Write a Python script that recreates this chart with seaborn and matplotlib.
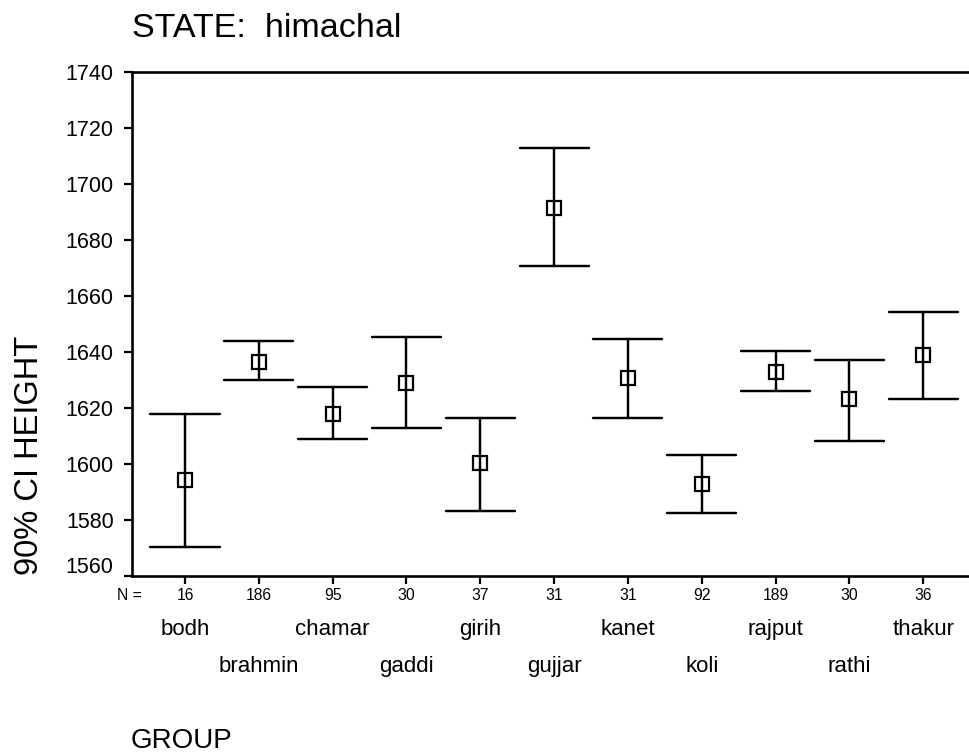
import numpy as np
import pandas as pd
import matplotlib
matplotlib.use("Agg")
import matplotlib.pyplot as plt
import matplotlib.transforms as mtrans
import seaborn as sns

# ---- data ----
groups = ["bodh", "brahmin", "chamar", "gaddi", "girih", "gujjar",
          "kanet", "koli", "rajput", "rathi", "thakur"]
n_counts = [16, 186, 95, 30, 37, 31, 31, 92, 189, 30, 36]
means = [1594.2, 1636.3, 1617.8, 1628.9, 1600.1, 1691.2,
         1630.5, 1592.8, 1632.6, 1623.0, 1638.7]
lower = [1570.4, 1629.8, 1608.9, 1612.6, 1583.0, 1670.5,
         1616.4, 1582.3, 1626.0, 1608.2, 1623.0]
upper = [1617.9, 1643.8, 1627.4, 1645.4, 1616.4, 1712.6,
         1644.4, 1603.1, 1640.1, 1637.0, 1654.1]
y_ticks = [1560, 1580, 1600, 1620, 1640, 1660, 1680, 1700, 1720, 1740]

title_text = "STATE:  himachal"
y_label = "90% CI HEIGHT"
x_label = "GROUP"
n_prefix = "N ="

# long table: lower bound, mean, upper bound per group
rows = []
for g, lo, m, hi in zip(groups, lower, means, upper):
    for v in (lo, m, hi):
        rows.append({"group": g, "height": v})
df = pd.DataFrame(rows)

sns.set_theme(style="ticks")
plt.rcParams["font.family"] = ["Liberation Sans", "DejaVu Sans"]
plt.rcParams["text.color"] = "black"
plt.rcParams["axes.edgecolor"] = "black"
plt.rcParams["xtick.color"] = "black"
plt.rcParams["ytick.color"] = "black"

W, H = 969, 754
fig = plt.figure(figsize=(W / 100, H / 100), dpi=100)
ax_left, ax_top, ax_bottom = 131.7, 71.7, 575.7
ax = fig.add_axes([ax_left / W, 1 - ax_bottom / H, 1 - ax_left / W,
                   (ax_bottom - ax_top) / H])

sns.pointplot(data=df, x="group", y="height", order=groups,
              estimator="median", errorbar=("pi", 100),
              color="black", marker="s", markersize=9.8,
              markeredgewidth=1.6, markerfacecolor="none",
              linestyle="none", capsize=0.935,
              err_kws={"linewidth": 1.75}, ax=ax)

for ln in ax.lines:
    if ln.get_marker() == "s":
        ln.set_markerfacecolor("none")
        ln.set_markeredgecolor("black")
        ln.set_zorder(5)

ax.set_xlim(-0.722, 10.62)
ax.set_ylim(1560, 1740)
ax.set_yticks(y_ticks)
ax.set_yticklabels([str(t) for t in y_ticks])
ax.set_xticks(range(len(groups)))
ax.set_xticklabels([str(n) for n in n_counts])
ax.set_xlabel("")
ax.set_ylabel("")

for side in ["left", "bottom", "top"]:
    ax.spines[side].set_linewidth(1.9)
    ax.spines[side].set_color("black")
ax.spines["right"].set_visible(False)

ax.tick_params(axis="y", direction="out", length=5.8, width=1.6,
               pad=7.2, labelsize=15.5)
ax.tick_params(axis="x", direction="out", length=5.5, width=1.6,
               pad=3.5, labelsize=11.3)

blend = mtrans.blended_transform_factory(ax.transData, ax.transAxes)
for i, g in enumerate(groups):
    yy = -0.1063 if i % 2 == 0 else -0.1806
    ax.text(i, yy, g, transform=blend, ha="center", va="center",
            fontsize=16)
ax.text(-0.585, -0.0397, n_prefix, transform=blend, ha="right",
        va="center", fontsize=11.3)

# shift the lowest y tick label upward as in the reference
t0 = ax.yaxis.get_major_ticks()[0]
t0.label1.set_transform(t0.label1.get_transform() +
                        mtrans.ScaledTranslation(0, 0.105, fig.dpi_scale_trans))

fig.text(132.5 / W, 1 - 36.7 / H, title_text, fontsize=24.5,
         ha="left", va="baseline")
fig.text(130.3 / W, 1 - 748.3 / H, x_label, fontsize=20,
         ha="left", va="baseline")
fig.text(37.8 / W, 1 - 455 / H, y_label, fontsize=23.5, rotation=90,
         rotation_mode="anchor", ha="center", va="baseline")

fig.savefig("out.png", dpi=100, facecolor="white")
